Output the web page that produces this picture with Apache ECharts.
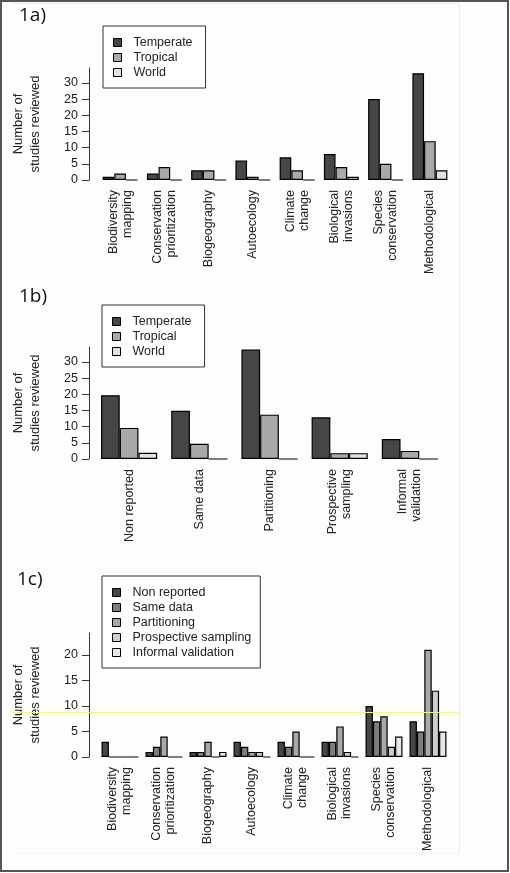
<!DOCTYPE html>
<html><head><meta charset="utf-8">
<script src="https://cdn.jsdelivr.net/npm/echarts@6/dist/echarts.min.js"></script>
<style>html,body{margin:0;padding:0;background:#fff}#c{width:510px;height:873px}</style>
</head><body><div id="c"></div>
<script>
// ---- data ----
const categoriesA = ['Biodiversity\nmapping','Conservation\nprioritization','Biogeography','Autoecology','Climate\nchange','Biological\ninvasions','Species\nconservation','Methodological'];
const temperateA = [1, 2, 3, 6, 7, 8, 25, 33];
const tropicalA  = [2, 4, 3, 1, 3, 4, 5, 12];
const worldA     = [0, 0, 0, 0, 0, 1, 0, 3];

const categoriesB = ['Non reported','Same data','Partitioning','Prospective\nsampling','Informal\nvalidation'];
const temperateB = [19.7, 14.9, 33.8, 12.9, 6.2];
const tropicalB  = [9.6, 4.7, 13.7, 1.8, 2.5];
const worldB     = [1.9, 0, 0, 1.8, 0];

const categoriesC = categoriesA;
const nonReportedC  = [3, 1, 1, 3, 3, 3, 10, 7];
const sameDataC     = [0, 2, 1, 2, 2, 3, 7, 5];
const partitioningC = [0, 4, 3, 1, 5, 6, 8, 21];
const prospectiveC  = [0, 0, 0, 1, 0, 1, 2, 13];
const informalC     = [0, 0, 1, 0, 0, 0, 4, 5];

const ticksAB = [0, 5, 10, 15, 20, 25, 30];
const ticksC  = [0, 5, 10, 15, 20];

// ---- styles ----
const FONT = '"Liberation Sans", Arial, sans-serif';
const TXT = '#222';
const C_T = '#464646', C_TR = '#a9a9a9', C_W = '#e2e2e2';
const C_NR = '#464646', C_SD = '#7d7d7d', C_P = '#a9a9a9', C_PS = '#cdcdcd', C_IV = '#e8e8e8';

function yAx(gi, max, ticks, offset) {
  return {
    type: 'value', gridIndex: gi, min: 0, max: max, offset: offset,
    axisLine: { show: true, lineStyle: { color: '#333', width: 1 } },
    axisTick: { show: true, length: 7, customValues: ticks, lineStyle: { color: '#333' } },
    axisLabel: { customValues: ticks, margin: 11, fontSize: 12.5, color: TXT, fontFamily: FONT },
    splitLine: { show: false },
    name: 'Number of\nstudies reviewed', nameLocation: 'middle', nameRotate: 90, nameGap: 45,
    nameTextStyle: { fontSize: 13, lineHeight: 17, color: TXT, fontFamily: FONT }
  };
}
function xAx(gi, data) {
  return {
    type: 'category', gridIndex: gi, data: data,
    axisLine: { show: false }, axisTick: { show: false },
    axisLabel: { rotate: 90, interval: 0, margin: 10, fontSize: 12.5, lineHeight: 14, color: TXT, fontFamily: FONT }
  };
}
function bar(name, data, gi, color, gap) {
  return {
    type: 'bar', name: name, data: data, xAxisIndex: gi, yAxisIndex: gi,
    barGap: '0%', barCategoryGap: gap,
    itemStyle: { color: color, borderColor: '#000', borderWidth: 1.2 },
    emphasis: { disabled: true }
  };
}
function legend(names, left, top, pad) {
  return {
    data: names, orient: 'vertical', left: left, top: top,
    itemWidth: 8, itemHeight: 8, itemGap: 0, padding: pad,
    borderColor: '#333', borderWidth: 1, backgroundColor: '#fff',
    selectedMode: false, icon: 'rect',
    textStyle: { fontSize: 12.5, lineHeight: 15, padding: [0, 0, 0, 7], color: TXT, fontFamily: FONT },
    itemStyle: { borderColor: '#000', borderWidth: 1 }
  };
}

const chart = echarts.init(document.getElementById('c'));
chart.setOption({
  animation: false,
  backgroundColor: '#fdfdfd',
  grid: [
    { left: 98, top: 68, width: 354, height: 112 },
    { left: 94, top: 347, width: 351, height: 112 },
    { left: 98, top: 633, width: 352, height: 124 }
  ],
  xAxis: [xAx(0, categoriesA), xAx(1, categoriesB), xAx(2, categoriesC)],
  yAxis: [yAx(0, 34.6, ticksAB, 9), yAx(1, 34.6, ticksAB, 5), yAx(2, 24.3, ticksC, 9)],
  legend: [
    legend(['Temperate', 'Tropical', 'World'], 103, 26, [9, 13, 8, 10]),
    legend(['Temperate', 'Tropical', 'World'], 102, 305, [9, 13, 8, 10]),
    legend(['Non reported', 'Same data', 'Partitioning', 'Prospective sampling', 'Informal validation'], 102, 576, [9, 9, 8, 10])
  ],
  series: [
    bar('Temperate', temperateA, 0, C_T, '21%'),
    bar('Tropical', tropicalA, 0, C_TR, '21%'),
    bar('World', worldA, 0, C_W, '21%'),
    bar('Temperate', temperateB, 1, C_T, '20%'),
    bar('Tropical', tropicalB, 1, C_TR, '20%'),
    bar('World', worldB, 1, C_W, '20%'),
    bar('Non reported', nonReportedC, 2, C_NR, '16%'),
    bar('Same data', sameDataC, 2, C_SD, '16%'),
    bar('Partitioning', partitioningC, 2, C_P, '16%'),
    bar('Prospective sampling', prospectiveC, 2, C_PS, '16%'),
    bar('Informal validation', informalC, 2, C_IV, '16%')
  ],
  graphic: [
    { type: 'rect', shape: { x: 1, y: 1, width: 507, height: 870 }, style: { fill: null, stroke: '#555', lineWidth: 2 }, silent: true, z: 100 },
    { type: 'line', shape: { x1: 459.5, y1: 3, x2: 459.5, y2: 853 }, style: { stroke: '#f6f68a', lineWidth: 1 }, silent: true, z: 100 },
    { type: 'line', shape: { x1: 12, y1: 3.5, x2: 459.5, y2: 3.5 }, style: { stroke: '#f6f68a', lineWidth: 1 }, silent: true, z: 100 },
    { type: 'line', shape: { x1: 12, y1: 712.5, x2: 459.5, y2: 712.5 }, style: { stroke: '#f6f68a', lineWidth: 1 }, silent: true, z: 100 },
    { type: 'line', shape: { x1: 12, y1: 853.5, x2: 459.5, y2: 853.5 }, style: { stroke: '#fafad0', lineWidth: 1 }, silent: true, z: 100 },
    { type: 'text', left: 19, top: 6, style: { text: '1a)', font: '19px "Open Sans", sans-serif', fill: '#111' }, silent: true },
    { type: 'text', left: 19, top: 287, style: { text: '1b)', font: '19px "Open Sans", sans-serif', fill: '#111' }, silent: true },
    { type: 'text', left: 17, top: 570, style: { text: '1c)', font: '19px "Open Sans", sans-serif', fill: '#111' }, silent: true }
  ]
});
</script>
</body></html>
